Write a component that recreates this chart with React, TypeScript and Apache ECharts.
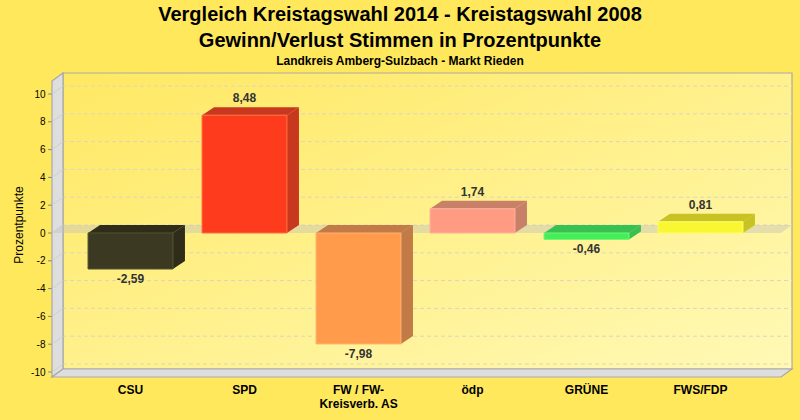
import React, { useEffect, useRef } from "react";
import * as echarts from "echarts";

const categories = ["CSU", "SPD", "FW / FW-\nKreisverb. AS", "ödp", "GRÜNE", "FWS/FDP"];
const values = [-2.59, 8.48, -7.98, 1.74, -0.46, 0.81];
const frontColors = ["#3B3921", "#FF3B1E", "#FF9B4B", "#FF9B82", "#45EE55", "#F8F732"];
const shadeColors = ["#2F2D1A", "#C8381F", "#C27A46", "#C98069", "#38C150", "#C8C222"];
const edgeColors = ["#55532F", "#FF7040", "#FFB070", "#FFB0A0", "#70F580", "#FCFC70"];
const yTicks = [-10, -8, -6, -4, -2, 0, 2, 4, 6, 8, 10];
const titleLine1 = "Vergleich Kreistagswahl 2014 - Kreistagswahl 2008";
const titleLine2 = "Gewinn/Verlust Stimmen in Prozentpunkte";
const subTitle = "Landkreis Amberg-Sulzbach - Markt Rieden";
const yAxisName = "Prozentpunkte";

const FONT = '"Liberation Sans", Arial, sans-serif';
const DX = 11;
const DY = 8;
const BDX = 12;
const BDY = 8;

function fmt(v: number): string {
  return v.toFixed(2).replace(".", ",");
}

export default function App() {
  const ref = useRef<HTMLDivElement>(null);

  useEffect(() => {
    if (!ref.current) return;
    const chart = echarts.init(ref.current, undefined, { renderer: "svg" });

    const frameRender = (params: any, api: any) => {
      const cs = params.coordSys;
      const x0 = cs.x;
      const x1 = cs.x + cs.width;
      const yTop = cs.y;
      const yBot = cs.y + cs.height;
      const Lf = x0 - 21.5;
      const Rf = x1 + 23.5;
      const Tf = yTop - 13;
      const Bf = yBot + 5;
      const children: any[] = [];
      children.push({
        type: "rect",
        shape: { x: Lf + DX, y: Tf - DY, width: Rf - Lf, height: Bf - Tf },
        style: {
          fill: new echarts.graphic.LinearGradient(0, 0, 1, 1, [
            { offset: 0, color: "#FFE862" },
            { offset: 1, color: "#FFF9B6" },
          ]),
          stroke: "#A9A9A9",
          lineWidth: 1.2,
        },
      });
      yTicks.forEach((t) => {
        const yv = api.coord([0, t])[1];
        children.push({
          type: "line",
          shape: { x1: Lf + DX, y1: yv - DY, x2: Rf + DX, y2: yv - DY },
          style: { stroke: "#DAD6C0", lineWidth: 1, lineDash: [4, 3] },
        });
      });
      children.push({
        type: "polygon",
        shape: { points: [[Lf, Tf], [Lf + DX, Tf - DY], [Lf + DX, Bf - DY], [Lf, Bf]] },
        style: { fill: "#DEDEDE", stroke: "#A9A9A9", lineWidth: 1.2 },
      });
      yTicks.forEach((t) => {
        const yv = api.coord([0, t])[1];
        children.push({
          type: "line",
          shape: { x1: Lf, y1: yv, x2: Lf + DX, y2: yv - DY },
          style: { stroke: "#CFCFCF", lineWidth: 1 },
        });
        children.push({
          type: "line",
          shape: { x1: Lf - 4, y1: yv, x2: Lf, y2: yv },
          style: { stroke: "#888888", lineWidth: 1 },
        });
      });
      children.push({
        type: "polygon",
        shape: { points: [[Lf, Bf], [Lf + DX, Bf - DY], [Rf + DX, Bf - DY], [Rf, Bf]] },
        style: { fill: "#DEDEDE", stroke: "#A9A9A9", lineWidth: 1.2 },
      });
      const y0 = api.coord([0, 0])[1];
      children.push({
        type: "polygon",
        shape: { points: [[Lf, y0], [Lf + DX, y0 - DY], [Rf + DX, y0 - DY], [Rf, y0]] },
        style: { fill: "rgba(190,190,190,0.42)" },
      });
      return { type: "group", children };
    };

    const barRender = (params: any, api: any) => {
      const idx = api.value(0);
      const v = api.value(1);
      const p = api.coord([idx, v]);
      const z = api.coord([idx, 0]);
      const bw = api.size([1, 0])[0] * 0.745;
      const xl = p[0] - bw / 2;
      const xr = p[0] + bw / 2;
      const yt = Math.min(p[1], z[1]);
      const yb = Math.max(p[1], z[1]);
      const i = params.dataIndex;
      return {
        type: "group",
        children: [
          {
            type: "polygon",
            shape: { points: [[xr, yt], [xr + BDX, yt - BDY], [xr + BDX, yb - BDY], [xr, yb]] },
            style: { fill: shadeColors[i] },
          },
          {
            type: "polygon",
            shape: { points: [[xl, yt], [xl + BDX, yt - BDY], [xr + BDX, yt - BDY], [xr, yt]] },
            style: { fill: shadeColors[i] },
          },
          {
            type: "rect",
            shape: { x: xl, y: yt, width: bw, height: yb - yt },
            style: { fill: frontColors[i], stroke: edgeColors[i], lineWidth: 1 },
          },
          {
            type: "text",
            x: p[0],
            y: v >= 0 ? yt - BDY - 9 : yb + 10,
            style: {
              text: fmt(v),
              fill: "#333333",
              font: `bold 12px ${FONT}`,
              align: "center",
              verticalAlign: "middle",
            },
          },
        ],
      };
    };

    chart.setOption({
      animation: false,
      backgroundColor: "#FFE85C",
      textStyle: { fontFamily: FONT },
      grid: { left: 73.5, right: 42.5, top: 94, bottom: 48, containLabel: false },
      xAxis: {
        type: "category",
        data: categories,
        axisLine: { show: false },
        axisTick: { show: false },
        splitLine: { show: false },
        axisLabel: {
          interval: 0,
          fontWeight: "bold",
          fontSize: 12,
          color: "#000",
          margin: 11,
          lineHeight: 14,
          fontFamily: FONT,
        },
      },
      yAxis: {
        type: "value",
        min: -10,
        max: 10,
        interval: 2,
        axisLine: { show: false },
        axisTick: { show: false },
        splitLine: { show: false },
        axisLabel: { fontSize: 10, color: "#000", margin: 28, fontFamily: FONT },
      },
      graphic: [
        {
          type: "text",
          x: 400,
          y: 14,
          style: { text: titleLine1, font: `bold 20px ${FONT}`, fill: "#000", align: "center", verticalAlign: "middle" },
        },
        {
          type: "text",
          x: 400,
          y: 40,
          style: { text: titleLine2, font: `bold 20px ${FONT}`, fill: "#000", align: "center", verticalAlign: "middle" },
        },
        {
          type: "text",
          x: 400,
          y: 61,
          style: { text: subTitle, font: `bold 12px ${FONT}`, fill: "#000", align: "center", verticalAlign: "middle" },
        },
        {
          type: "text",
          x: 19,
          y: 225,
          rotation: Math.PI / 2,
          style: { text: yAxisName, font: `12px ${FONT}`, fill: "#000", align: "center", verticalAlign: "middle" },
        },
      ],
      series: [
        {
          type: "custom",
          z: 1,
          clip: false,
          silent: true,
          renderItem: frameRender,
          data: [[0, 0]],
        },
        {
          type: "custom",
          z: 2,
          clip: false,
          renderItem: barRender,
          data: values.map((v, i) => [i, v]),
        },
      ],
    });

    return () => chart.dispose();
  }, []);

  return <div ref={ref} style={{ position: "fixed", left: 0, top: 0, width: 800, height: 420 }} />;
}
